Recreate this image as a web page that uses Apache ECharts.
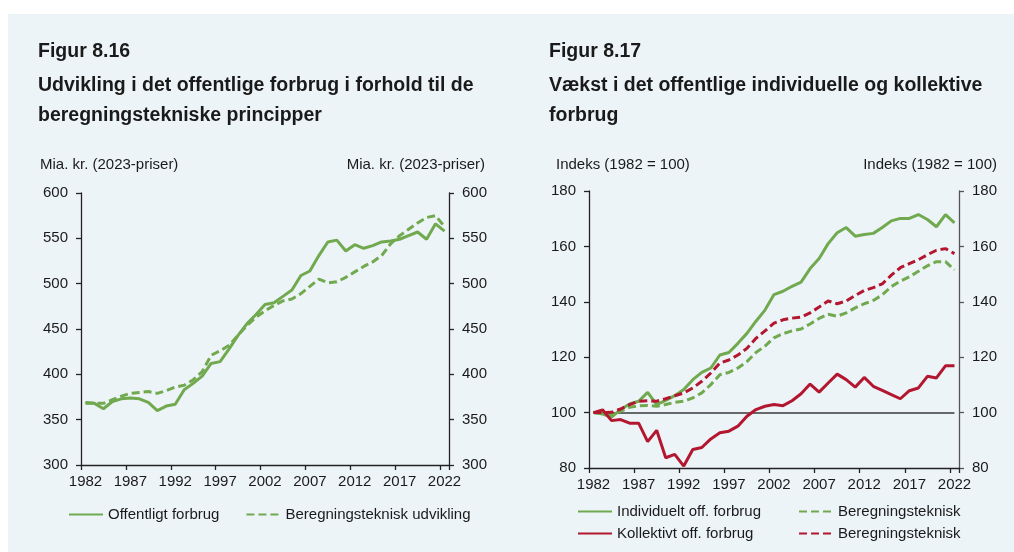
<!DOCTYPE html>
<html>
<head>
<meta charset="utf-8">
<script src="https://cdn.jsdelivr.net/npm/echarts@6/dist/echarts.min.js"></script>
<style>
  html, body { margin: 0; padding: 0; background: #ffffff; }
  #panel { position: absolute; left: 8px; top: 14px; width: 1006px; height: 538px; background: #edf4f8; }
  #chart { position: absolute; left: 0; top: 0; width: 1014px; height: 552px; }
</style>
</head>
<body>
<div id="panel"></div>
<div id="chart"></div>
<script>
// Years on both horizontal axes
const years = ['1982','1983','1984','1985','1986','1987','1988','1989','1990','1991',
  '1992','1993','1994','1995','1996','1997','1998','1999','2000','2001',
  '2002','2003','2004','2005','2006','2007','2008','2009','2010','2011',
  '2012','2013','2014','2015','2016','2017','2018','2019','2020','2021','2022'];

// Figur 8.16 – Mia. kr. (2023-priser)
const offentligtForbrug = [369, 368, 362, 370, 373, 374, 373, 369, 360, 365,
  367, 383, 390, 398, 412, 414, 428, 443, 456, 466,
  477, 479, 486, 493, 509, 514, 531, 546, 548, 536,
  543, 539, 542, 546, 547, 549, 553, 557, 549, 566, 558];
const beregningsteknikUdvikling = [368, 368, 368, 372, 376, 379, 380, 381, 379, 382,
  386, 388, 394, 403, 421, 426, 432, 443, 454, 463,
  470, 476, 481, 483, 489, 497, 505, 501, 502, 507,
  513, 519, 524, 531, 544, 553, 560, 567, 573, 575, 563];

// Figur 8.17 – Indeks (1982 = 100)
const individueltForbrug = [100, 99.5, 98.4, 101.1, 103.1, 104.1, 107.3, 102.9, 104.4, 106.1,
  108.3, 111.9, 114.5, 116.1, 120.8, 121.7, 125, 128.6, 133, 137,
  142.6, 143.8, 145.6, 147.1, 152, 155.6, 161, 164.9, 166.8, 163.7,
  164.3, 164.7, 166.8, 169.2, 170.1, 170.1, 171.5, 169.7, 167.1, 171.5, 168.5];
const kollektivtForbrug = [100, 101, 97.1, 97.5, 96.2, 96.2, 89.5, 93.6, 83.7, 84.9,
  80.7, 86.7, 87.4, 90.5, 92.7, 93.3, 95.1, 98.7, 101.1, 102.3,
  102.9, 102.5, 104.3, 106.8, 110.3, 107.4, 110.7, 113.9, 111.9, 109.2,
  112.7, 109.5, 108, 106.5, 105, 107.9, 108.9, 113.1, 112.5, 116.9, 116.9];
const beregningIndividuel = [100, 99.6, 99.3, 100.5, 101.9, 102.5, 102.6, 102.3, 102.9, 103.7,
  104.1, 105.3, 107.1, 110.1, 113.7, 114.5, 116.1, 118.4, 121.7, 124,
  127, 128.5, 129.5, 130.2, 132, 134, 135.5, 134.8, 136, 137.8,
  139.3, 140.5, 142.5, 145.5, 147.5, 149, 151, 153, 154.5, 154.5, 151.5];
const beregningKollektiv = [100, 100, 100.1, 101.3, 102.9, 104.1, 104.3, 104.1, 105, 106.1,
  107.1, 108.9, 111.3, 114.3, 117.9, 119, 120.8, 123.2, 126.8, 129.5,
  132.3, 133.5, 134.1, 134.5, 136, 138.1, 140.3, 139.3, 140.3, 142.3,
  144.1, 145.1, 146.5, 149.6, 152.3, 153.8, 155.2, 157, 158.6, 159.2, 157.4];
const basisLinje = 100;

const FONT = '"Liberation Sans", Arial, sans-serif';
const INK = '#1a1a1a';
const GREEN = '#71a94f';
const RED = '#b3162f';

// Legend display names (two series share the label "Beregningsteknisk")
const legendText = {
  'Beregningsteknisk (individuel)': 'Beregningsteknisk',
  'Beregningsteknisk (kollektiv)': 'Beregningsteknisk'
};

function xAxisFor(gridIndex) {
  return {
    gridIndex: gridIndex, type: 'category', data: years, boundaryGap: true,
    axisLine: { show: true, onZero: false, lineStyle: { color: '#222', width: 1.3 } },
    axisTick: { show: true, interval: 4, length: 5, lineStyle: { color: '#222', width: 1.3 } },
    axisLabel: { interval: 4, margin: 9, fontSize: 15, color: INK, fontFamily: FONT },
    splitLine: { show: false }
  };
}
function yAxisFor(gridIndex, position, min, max, step, lineColor) {
  return {
    gridIndex: gridIndex, type: 'value', position: position, min: min, max: max, interval: step,
    axisLine: { show: true, lineStyle: { color: lineColor, width: 1.3 } },
    axisTick: { show: true, length: 5, lineStyle: { color: lineColor, width: 1.3 } },
    axisLabel: { margin: 13, fontSize: 15, color: INK, fontFamily: FONT },
    splitLine: { show: false }
  };
}
function lineSeries(name, data, color, dashed, xi, yi) {
  return {
    name: name, type: 'line', data: data, xAxisIndex: xi, yAxisIndex: yi,
    symbol: 'none', z: 3,
    itemStyle: { color: color },
    lineStyle: { color: color, width: 3, type: dashed ? [8, 4] : 'solid', cap: 'butt' }
  };
}
function headline(x, y, text) {
  return { type: 'text', x: x, y: y,
    style: { text: text, font: 'bold 19.5px ' + FONT, fill: INK, verticalAlign: 'middle' } };
}
function label(x, y, text, align) {
  return { type: 'text', x: x, y: y,
    style: { text: text, font: '15px ' + FONT, fill: INK, verticalAlign: 'middle', align: align } };
}
const legendBase = {
  itemWidth: 34, itemHeight: 14, padding: 0,
  itemStyle: { opacity: 0 },
  textStyle: { fontSize: 15, color: INK, fontFamily: FONT, lineHeight: 14 },
  formatter: function (n) { return legendText[n] || n; }
};

const chart = echarts.init(document.getElementById('chart'));
chart.setOption({
  animation: false,
  backgroundColor: 'transparent',
  grid: [
    { left: 81, right: 565, top: 193, bottom: 87 },
    { left: 589, right: 55, top: 191, bottom: 84 }
  ],
  xAxis: [xAxisFor(0), xAxisFor(1)],
  yAxis: [
    yAxisFor(0, 'left', 300, 600, 50, '#222'),
    yAxisFor(0, 'right', 300, 600, 50, '#222'),
    yAxisFor(1, 'left', 80, 180, 20, '#222'),
    yAxisFor(1, 'right', 80, 180, 20, '#555')
  ],
  legend: [
    Object.assign({}, legendBase, {
      data: ['Offentligt forbrug', 'Beregningsteknisk udvikling'],
      left: 68, top: 507, itemGap: 26
    }),
    Object.assign({}, legendBase, {
      data: ['Individuelt off. forbrug', 'Kollektivt off. forbrug'],
      orient: 'vertical', left: 577, top: 504, itemGap: 7
    }),
    Object.assign({}, legendBase, {
      data: ['Beregningsteknisk (individuel)', 'Beregningsteknisk (kollektiv)'],
      orient: 'vertical', left: 798, top: 504, itemGap: 7
    })
  ],
  graphic: [
    headline(38, 52, 'Figur 8.16'),
    headline(38, 86, 'Udvikling i det offentlige forbrug i forhold til de'),
    headline(38, 116, 'beregningstekniske principper'),
    headline(549, 52, 'Figur 8.17'),
    headline(549, 86, 'Vækst i det offentlige individuelle og kollektive'),
    headline(549, 116, 'forbrug'),
    label(40, 165, 'Mia. kr. (2023-priser)', 'left'),
    label(485, 165, 'Mia. kr. (2023-priser)', 'right'),
    label(556, 165, 'Indeks (1982 = 100)', 'left'),
    label(997, 165, 'Indeks (1982 = 100)', 'right')
  ],
  series: [
    lineSeries('Offentligt forbrug', offentligtForbrug, GREEN, false, 0, 0),
    lineSeries('Beregningsteknisk udvikling', beregningsteknikUdvikling, GREEN, true, 0, 0),
    Object.assign(lineSeries('Individuelt off. forbrug', individueltForbrug, GREEN, false, 1, 2), {
      markLine: {
        silent: true, symbol: 'none', z: 1, animation: false,
        label: { show: false },
        lineStyle: { color: '#3a3a3a', width: 1.5, type: 'solid' },
        data: [[{ coord: [years[0], basisLinje] }, { coord: [years[years.length - 1], basisLinje] }]]
      }
    }),
    lineSeries('Beregningsteknisk (individuel)', beregningIndividuel, GREEN, true, 1, 2),
    lineSeries('Kollektivt off. forbrug', kollektivtForbrug, RED, false, 1, 2),
    lineSeries('Beregningsteknisk (kollektiv)', beregningKollektiv, RED, true, 1, 2)
  ]
});
</script>
</body>
</html>
